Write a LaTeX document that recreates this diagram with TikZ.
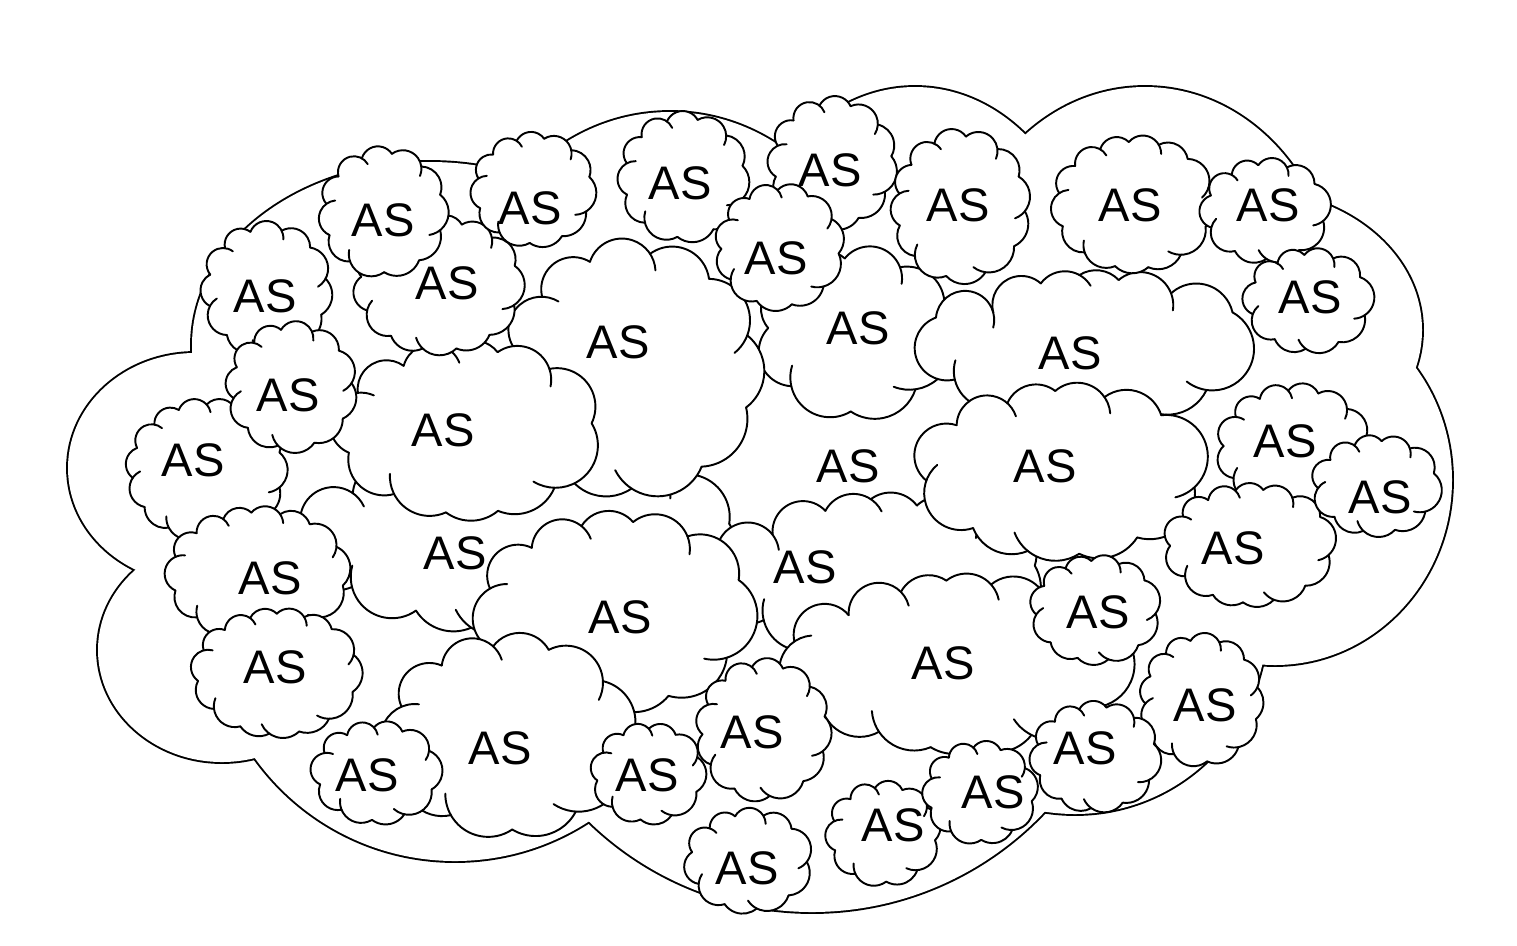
\documentclass[tikz,border=0pt]{standalone}
\usepackage{fontspec}
\setmainfont{Liberation Sans}
\tikzset{
  cl/.style={line width=0.55pt, line cap=round, line join=round},
  astxt/.style={font=\fontsize{13.4}{16}\selectfont, inner sep=0pt},
}
% helper: position and radius of puff #1 of current cloud
\newcommand\qget[1]{%
 \pgfmathsetmacro\qt{\qs+360*#1/\qn}%
 \pgfmathsetmacro\qth{\qt+\qK*sin(2*\qt)}%
 \pgfmathsetmacro\qX{\qa*cos(\qth)}%
 \pgfmathsetmacro\qY{\qb*sin(\qth)}%
 \pgfmathsetmacro\qR{\qrad*(1+0.2*cos(\qth-50))}}
% cloud: #1 cx, #2 cy, #3 half width, #4 half height, #5 puff radius, #6 seed, #7 lx, #8 ly
\newcommand\cld[8]{%
\begin{scope}[shift={(#1,#2)}]
 \def\qs{#6}\def\qrad{#5}%
 \pgfmathsetmacro\qa{#3-#5}%
 \pgfmathsetmacro\qb{#4-#5}%
 \pgfmathsetmacro\qP{pi*(3*(\qa+\qb)-sqrt(3*\qa+\qb)*sqrt(\qa+3*\qb))}%
 \pgfmathtruncatemacro\qn{max(7,round(\qP/(1.3*#5)))}%
 \pgfmathsetmacro\qK{(\qa-\qb)/(2*(\qa+\qb))*57.2958}%
 \fill[white] (0,0) ellipse[x radius=\qa, y radius=\qb];
 \foreach \i in {1,...,\qn}{%
   \qget{\i}%
   \fill[white] (\qX,\qY) circle[radius=\qR];
 }
 \foreach \i in {1,...,\qn}{%
   \pgfmathtruncatemacro\inx{mod(\i,\qn)+1}%
   \pgfmathtruncatemacro\ipv{mod(\i+\qn-2,\qn)+1}%
   \qget{\i}\let\qxa\qX\let\qya\qY\let\qra\qR
   \qget{\inx}\let\qxn\qX\let\qyn\qY\let\qrn\qR
   \qget{\ipv}\let\qxp\qX\let\qyp\qY\let\qrp\qR
   \pgfmathsetmacro\qdN{veclen(\qxn-\qxa,\qyn-\qya)}%
   \pgfmathsetmacro\qaN{atan2(\qyn-\qya,\qxn-\qxa)}%
   \pgfmathsetmacro\qcN{(\qdN*\qdN+\qra*\qra-\qrn*\qrn)/(2*\qdN*\qra)}%
   \pgfmathsetmacro\qbN{acos(min(1,max(-1,\qcN)))}%
   \pgfmathsetmacro\qdP{veclen(\qxp-\qxa,\qyp-\qya)}%
   \pgfmathsetmacro\qaP{atan2(\qyp-\qya,\qxp-\qxa)}%
   \pgfmathsetmacro\qcP{(\qdP*\qdP+\qra*\qra-\qrp*\qrp)/(2*\qdP*\qra)}%
   \pgfmathsetmacro\qbP{acos(min(1,max(-1,\qcP)))}%
   \pgfmathsetmacro\qsA{\qaP+\qbP}%
   \pgfmathsetmacro\qeA{\qaN-\qbN}%
   \pgfmathsetmacro\qsp{mod(\qeA-\qsA+720,360)}%
   \pgfmathsetmacro\qtl{ifthenelse(mod(\i,2)==0,30,0)}%
   \pgfmathsetmacro\qEnd{\qsA+\qsp+\qtl}%
   \draw[cl] (\qxa,\qya) ++(\qsA:\qra) arc[start angle=\qsA, end angle=\qEnd, radius=\qra];
 }
\end{scope}
\node[astxt] (as-#7-#8) at (#7,#8) {AS};}
\begin{document}
\begin{tikzpicture}[x=0.1mm,y=-0.1mm]
\useasboundingbox (0,0) rectangle (1517,945);
\fill[white] (0,0) rectangle (1517,945);
% background large cloud
\def\lobes{195/468/127/115, 222/650/124/112, 455/615/246/246, 812/592/320/320, 1075/622/192/192, 1275/480/177/185, 1250/330/172/140, 1145/300/190/213, 915/300/175/213, 670/330/205/218, 430/345/238/183}
\foreach \x/\y/\a/\b in \lobes \draw[line width=1.1pt] (\x,\y) ellipse[x radius=\a, y radius=\b];
\foreach \x/\y/\a/\b in \lobes \fill[white] (\x,\y) ellipse[x radius=\a, y radius=\b];
% medium clouds
\cld{512}{535}{225}{95}{40}{10}{455}{553}
\cld{850}{328}{100}{88}{36}{20}{858}{328}
\cld{1080}{341}{171}{76}{36}{35}{1070}{353}
\cld{627}{363}{132}{131}{40}{5}{618}{342}
\cld{462}{425}{137}{90}{36}{50}{443}{430}
\cld{872}{571}{172}{84}{38}{15}{805}{567}
\cld{1056}{466}{150}{89}{38}{25}{1045}{466}
\cld{610}{606}{143}{101}{38}{40}{620}{617}
\cld{951}{658}{179}{90}{38}{60}{943}{663}
\cld{504}{730}{128}{103}{38}{30}{500}{748}
% small clouds
\cld{204}{467}{81}{72}{20}{3}{193}{460}
\cld{264}{286}{66}{68}{20}{11}{265}{296}
\cld{289}{384}{66}{66}{20}{17}{288}{395}
\cld{255}{571}{93}{68}{21}{23}{270}{578}
\cld{274}{670}{86}{65}{20}{29}{275}{667}
\cld{436}{282}{86}{70}{21}{31}{447}{283}
\cld{381}{209}{65}{66}{20}{37}{383}{220}
\cld{531}{187}{63}{58}{19}{41}{530}{208}
\cld{681}{174}{66}{66}{20}{43}{680}{183}
\cld{830}{160}{65}{67}{20}{47}{830}{170}
\cld{958}{203}{70}{78}{21}{53}{958}{205}
\cld{777}{244}{65}{64}{20}{59}{776}{258}
\cld{1131}{201}{83}{69}{21}{61}{1130}{205}
\cld{1263}{208}{66}{53}{19}{67}{1268}{205}
\cld{1306}{298}{66}{53}{19}{71}{1310}{297}
\cld{1291}{445}{78}{65}{20}{73}{1285}{441}
\cld{1247}{542}{87}{62}{20}{79}{1233}{548}
\cld{1374}{483}{66}{51}{19}{83}{1380}{497}
\cld{1093}{607}{66}{55}{19}{89}{1098}{612}
\cld{1199}{697}{62}{67}{19}{97}{1205}{705}
\cld{881}{831}{58}{53}{18}{101}{893}{825}
\cld{978}{790}{58}{52}{18}{103}{993}{792}
\cld{1093}{754}{66}{56}{19}{107}{1085}{748}
\cld{374}{770}{66}{52}{19}{109}{367}{775}
\cld{646}{771}{58}{51}{18}{113}{647}{775}
\cld{761}{727}{68}{72}{20}{127}{752}{732}
\cld{746}{858}{65}{53}{19}{131}{747}{868}
% label of the hidden cloud in the middle
\node[astxt] (as-848-466) at (848,466) {AS};
\end{tikzpicture}
\end{document}
